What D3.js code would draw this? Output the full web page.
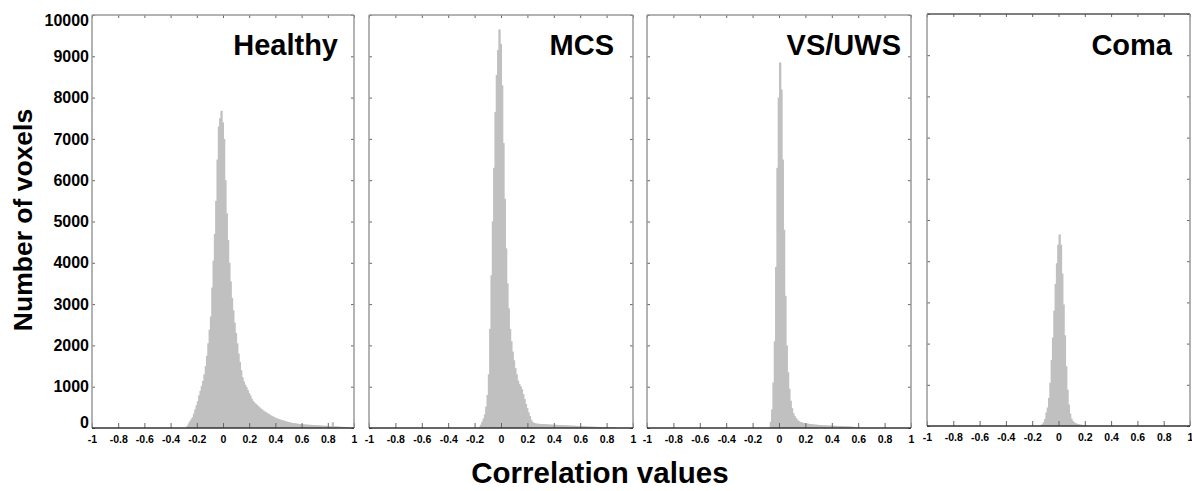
<!DOCTYPE html>
<html>
<head>
<meta charset="utf-8">
<script src="https://cdn.jsdelivr.net/npm/d3@7"></script>
<style>
  body { margin: 0; background: #fff; }
  svg { display: block; font-family: "Liberation Sans", Arial, sans-serif; }
</style>
</head>
<body>
<svg id="chart"></svg>
<script>
// histogram data: counts per 0.01 bin, starting at binStarts[i]
var titles = ['Healthy', 'MCS', 'VS/UWS', 'Coma'];
var binWidth = 0.01;
var binStarts = [-0.28, -0.17, -0.08, -0.14];

var healthyCounts = [
    50, 110, 160, 210, 260, 350, 450, 550, 650, 790,
    900, 1020, 1140, 1300, 1500, 1750, 2050, 2380, 2700, 3400,
    4050, 4700, 5500, 6500, 7300, 7500, 7680, 7400, 7000, 6000,
    5200, 4550, 4000, 3550, 3150, 2850, 2550, 2300, 2050, 1800,
    1600, 1400, 1230, 1130, 1050, 990, 920, 850, 790, 710,
    660, 620, 590, 560, 530, 500, 470, 450, 420, 400,
    380, 360, 340, 320, 300, 285, 270, 250, 238, 225,
    215, 205, 195, 185, 175, 165, 155, 145, 138, 130,
    122, 118, 112, 109, 104, 100, 97, 92, 90, 86,
    84, 81, 80, 77, 76, 74, 71, 70, 67, 66,
    64, 61, 60, 58, 55, 54, 52, 50, 47, 46,
    44, 140, 40, 38, 36, 33, 32, 30, 27, 26,
    24, 20, 16, 12, 8
];
var mcsCounts = [
    30, 80, 150, 230, 330, 520, 800, 1300, 2400, 3700,
    5000, 6300, 7650, 8550, 9150, 9650, 9300, 8300, 6900, 5550,
    4350, 3500, 2900, 2400, 2100, 1850, 1640, 1450, 1300, 1150,
    1070, 1010, 940, 820, 700, 580, 480, 380, 290, 200,
    150, 125, 115, 108, 104, 100, 98, 95, 92, 96,
    90, 88, 85, 84, 82, 80, 78, 81, 76, 75,
    73, 72, 70, 68, 67, 65, 64, 62, 60, 58,
    57, 55, 54, 52, 50, 48, 46, 45, 43, 42,
    40, 38, 36, 35, 33, 32, 30, 29, 28, 26,
    25, 24, 22, 21, 20, 18, 17, 16, 15, 14,
    12, 11, 10, 8
];
var vsCounts = [
    15, 150, 450, 1100, 2100, 3900, 6300, 8000, 8850, 8200,
    6500, 4800, 3200, 2000, 1350, 950, 660, 480, 360, 290,
    240, 200, 170, 150, 140, 130, 122, 115, 110, 105,
    100, 96, 92, 88, 84, 80, 78, 75, 72, 70,
    68, 66, 64, 62, 60, 58, 57, 56, 55, 54,
    52, 50, 48, 46, 45, 44, 42, 41, 40, 38,
    36, 34, 32, 30, 27, 24, 20, 16, 12
];
var comaCounts = [
    25, 45, 90, 170, 330, 450, 680, 1050, 1600, 2150,
    2800, 3450, 3950, 4400, 4650, 4400, 3700, 2950, 2200, 1450,
    880, 520, 300, 180, 120, 90, 70, 55, 45, 38,
    32, 27, 22, 18, 14, 10
];
var allCounts = [healthyCounts, mcsCounts, vsCounts, comaCounts];

var xTicks = [-1, -0.8, -0.6, -0.4, -0.2, 0, 0.2, 0.4, 0.6, 0.8, 1];
var xTickLabels = ['-1', '-0.8', '-0.6', '-0.4', '-0.2', '0', '0.2', '0.4', '0.6', '0.8', '1'];
var yTicks = [0, 1000, 2000, 3000, 4000, 5000, 6000, 7000, 8000, 9000, 10000];
var yTickLabels = ['0', '1000', '2000', '3000', '4000', '5000', '6000', '7000', '8000', '9000', '10000'];

var conf = {
    width: 1192,
    height: 491,
    xDomain: [-1, 1],
    yDomain: [0, 10000],
    // frame of each panel, in pixels
    panels: [
        {left: 92,  right: 354,  top: 15, bottom: 428, titlePad: 16},
        {left: 369, right: 633,  top: 15, bottom: 428, titlePad: 19},
        {left: 647, right: 911,  top: 15, bottom: 428, titlePad: 10},
        {left: 927, right: 1190, top: 14, bottom: 426, titlePad: 18}
    ],
    barColor: '#c0c0c0',
    frameColor: '#9a9a9a',
    baseColor: '#333',
    tickColor: '#666'
};

var svg = d3.select('#chart')
    .attr('width', conf.width)
    .attr('height', conf.height);

var drawPanel = function(idx) {
    var p = conf.panels[idx];
    var counts = allCounts[idx];
    var start = binStarts[idx];

    var x = d3.scaleLinear().domain(conf.xDomain).range([p.left, p.right]);
    var y = d3.scaleLinear().domain(conf.yDomain).range([p.bottom, p.top]);

    var g = svg.append('g');

    // bars (overlap 1px so neighbouring bins don't leave seams)
    var bins = counts.map(function(c, i) {
        var x0 = Math.round((start + i * binWidth) * 1000) / 1000;
        return {x0: x0, x1: Math.round((x0 + binWidth) * 1000) / 1000, count: c};
    });
    g.append('g').selectAll('rect')
        .data(bins)
        .enter().append('rect')
        .attr('x', function(d) { return x(d.x0); })
        .attr('width', function(d, i) {
            var w = x(d.x1) - x(d.x0);
            return i < bins.length - 1 ? w + 1 : w;
        })
        .attr('y', function(d) { return y(d.count); })
        .attr('height', function(d) { return y(0) - y(d.count); })
        .attr('fill', conf.barColor);

    // bottom axis with labels, ticks pointing inward
    var bottom = g.append('g')
        .attr('transform', 'translate(0,' + p.bottom + ')')
        .call(d3.axisBottom(x).tickValues(xTicks).tickSize(-5).tickPadding(8)
            .tickFormat(function(d, i) { return xTickLabels[i]; }));
    bottom.select('.domain').remove();
    bottom.selectAll('line').attr('stroke', conf.tickColor);
    bottom.selectAll('text')
        .attr('font-size', 10.5)
        .attr('font-weight', 'bold')
        .attr('fill', '#000');

    // top axis, ticks only
    var top = g.append('g')
        .attr('transform', 'translate(0,' + p.top + ')')
        .call(d3.axisTop(x).tickValues(xTicks).tickSize(-3).tickFormat(''));
    top.select('.domain').remove();
    top.selectAll('line').attr('stroke', conf.tickColor);

    // left axis; only the first panel gets labels
    var leftAxis = d3.axisLeft(y).tickValues(yTicks).tickSize(-3).tickPadding(3)
        .tickFormat(function(d, i) { return idx === 0 ? yTickLabels[i] : ''; });
    var left = g.append('g')
        .attr('transform', 'translate(' + p.left + ',0)')
        .call(leftAxis);
    left.select('.domain').remove();
    left.selectAll('line').attr('stroke', conf.tickColor);
    left.selectAll('text')
        .attr('font-size', 16)
        .attr('font-weight', 'bold')
        .attr('fill', '#000')
        .attr('dy', function(d) {
            // end labels are nudged inside the frame
            if (d === conf.yDomain[1]) return '0.65em';
            if (d === conf.yDomain[0]) return '-0.02em';
            return '0.32em';
        });

    var right = g.append('g')
        .attr('transform', 'translate(' + p.right + ',0)')
        .call(d3.axisRight(y).tickValues(yTicks).tickSize(-3).tickFormat(''));
    right.select('.domain').remove();
    right.selectAll('line').attr('stroke', conf.tickColor);

    // frame
    var frame = g.append('g').attr('fill', 'none').attr('stroke-width', 1.5);
    frame.append('line')
        .attr('x1', p.left).attr('y1', p.top).attr('x2', p.right).attr('y2', p.top)
        .attr('stroke', idx === 3 ? '#555' : conf.frameColor);
    frame.append('line')
        .attr('x1', p.left).attr('y1', p.top).attr('x2', p.left).attr('y2', p.bottom)
        .attr('stroke', conf.frameColor);
    frame.append('line')
        .attr('x1', p.right).attr('y1', p.top).attr('x2', p.right).attr('y2', p.bottom)
        .attr('stroke', conf.frameColor);
    frame.append('line')
        .attr('x1', p.left).attr('y1', p.bottom).attr('x2', p.right).attr('y2', p.bottom)
        .attr('stroke', conf.baseColor);

    // panel title
    g.append('text')
        .attr('x', p.right - p.titlePad)
        .attr('y', 55)
        .attr('text-anchor', 'end')
        .attr('font-size', 29)
        .attr('font-weight', 'bold')
        .text(titles[idx]);
};

titles.forEach(function(t, i) {
    drawPanel(i);
});

// axis titles
svg.append('text')
    .attr('transform', 'translate(32,220) rotate(-90)')
    .attr('text-anchor', 'middle')
    .attr('font-size', 26.5)
    .attr('font-weight', 'bold')
    .text('Number of voxels');

svg.append('text')
    .attr('x', 600)
    .attr('y', 483)
    .attr('text-anchor', 'middle')
    .attr('font-size', 29.5)
    .attr('font-weight', 'bold')
    .text('Correlation values');
</script>
</body>
</html>
